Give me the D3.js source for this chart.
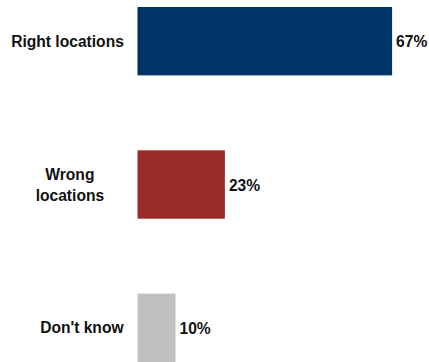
<!DOCTYPE html>
<html>
<head>
<meta charset="utf-8">
<script src="https://cdn.jsdelivr.net/npm/d3@7"></script>
<style>
  html, body { margin: 0; padding: 0; background: #fff; }
  svg { display: block; }
  text { font-family: "Liberation Sans", Arial, sans-serif; font-weight: bold; fill: #111; }
</style>
</head>
<body>
<svg id="chart" width="429" height="362"></svg>
<script>
// Survey answers and their shares (%)
const categories = ["Right locations", "Wrong locations", "Don't know"];
const labelLines = [["Right locations"], ["Wrong", "locations"], ["Don't know"]];
const values = [67, 23, 10];
const colors = ["#003366", "#9B2A2B", "#C0C0C0"];

const svg = d3.select("#chart");
const fontSize = 15.6;

const x = d3.scaleLinear().domain([0, 100]).range([137.5, 517.5]);
const y = d3.scaleBand().domain(categories).range([7, 362]).paddingInner(0.523).paddingOuter(0);

const rows = svg.selectAll("g.row")
  .data(categories.map((c, i) => ({ c, v: values[i], lines: labelLines[i], color: colors[i] })))
  .join("g").attr("class", "row");

rows.append("rect")
  .attr("x", x(0))
  .attr("y", d => y(d.c))
  .attr("width", d => x(d.v) - x(0))
  .attr("height", y.bandwidth())
  .attr("fill", d => d.color);

// Category labels, centred on their widest line and right-aligned to the bars
const lineH = 21;
rows.each(function(d) {
  const g = d3.select(this);
  const cy = y(d.c) + y.bandwidth() / 2;
  const t = g.append("text")
    .attr("font-size", fontSize)
    .attr("text-anchor", "middle");
  d.lines.forEach((ln, i) => {
    t.append("tspan")
      .attr("y", cy + 5.5 + (i - (d.lines.length - 1) / 2) * lineH)
      .text(ln);
  });
  const w = t.node().getBBox().width;
  t.selectAll("tspan").attr("x", 124 - w / 2);
});

// Value labels at the end of each bar
rows.append("text")
  .attr("x", d => x(d.v) + 4)
  .attr("y", d => y(d.c) + y.bandwidth() / 2 + 6)
  .attr("font-size", fontSize)
  .text(d => d.v + "%");
</script>
</body>
</html>
